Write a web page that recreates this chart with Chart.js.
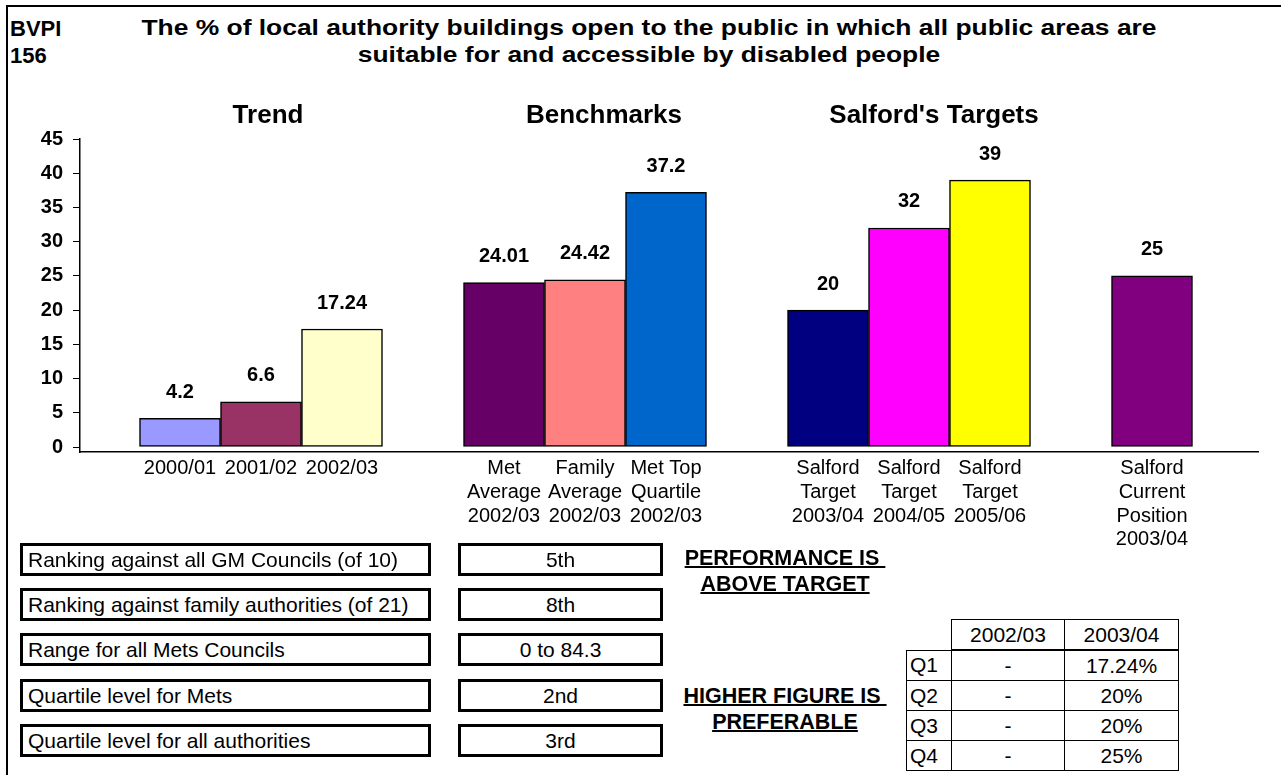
<!DOCTYPE html>
<html>
<head>
<meta charset="utf-8">
<script src="https://cdn.jsdelivr.net/npm/chart.js@4.4.1/dist/chart.umd.min.js"></script>
<style>
  html, body { margin: 0; padding: 0; background: #fff; }
  body { width: 1281px; height: 775px; position: relative; overflow: hidden; font-family: "Liberation Sans", Arial, sans-serif; color: #000; }
  #wrap { position: absolute; left: 0; top: 0; width: 1281px; height: 560px; }
  .frameTop { position: absolute; left: 6px; top: 5px; width: 1275px; height: 2px; background: #000; }
  .frameLeft { position: absolute; left: 6px; top: 5px; width: 2px; height: 770px; background: #000; }
  .hdr { position: absolute; font-weight: bold; font-size: 22px; line-height: 27px; white-space: nowrap; }
  .box { position: absolute; box-sizing: border-box; border: 3px solid #000; height: 33px; font-size: 21px; line-height: 27px; white-space: nowrap; }
  .lbl { left: 20px; width: 411px; padding-left: 5px; }
  .val { left: 458px; width: 205px; text-align: center; }
  .note { position: absolute; left: 675px; width: 220px; text-align: center; font-weight: bold; font-size: 21.5px; line-height: 26px; text-decoration: underline; text-decoration-thickness: 2px; white-space: pre; }
  table.q { position: absolute; left: 906px; top: 619px; border-collapse: collapse; table-layout: fixed; font-size: 21px; }
  table.q td { border: 1px solid #000; text-align: center; padding: 0; height: 29px; }
  table.q td.rl { text-align: left; padding-left: 3px; }
  table.q tr.head td { border-bottom: 2px solid #000; }
</style>
</head>
<body>
<div class="frameTop"></div>
<div class="frameLeft"></div>
<div class="hdr" style="left:10px; top:15px;">BVPI<br>156</div>
<div class="hdr" style="left:139px; width:1020px; top:14px; text-align:center; transform:scaleX(1.2); transform-origin:510px 0;">The % of local authority buildings open to the public in which all public areas are<br>suitable for and accessible by disabled people</div>
<div id="wrap"><canvas id="chart"></canvas></div>
<div id="boxes"></div>
<div class="note" style="top:545px;">PERFORMANCE IS 
ABOVE TARGET</div>
<div class="note" style="top:683px;">HIGHER FIGURE IS 
PREFERABLE</div>
<table class="q" id="qtable">
  <colgroup><col style="width:45px"><col style="width:113px"><col style="width:114px"></colgroup>
  <tbody></tbody>
</table>
<script>
// bar chart data, one group per heading
const trendLabels = [['2000/01'], ['2001/02'], ['2002/03']];
const trendValues = [4.2, 6.6, 17.24];
const benchLabels = [['Met', 'Average', '2002/03'], ['Family', 'Average', '2002/03'], ['Met Top', 'Quartile', '2002/03']];
const benchValues = [24.01, 24.42, 37.2];
const targetLabels = [['Salford', 'Target', '2003/04'], ['Salford', 'Target', '2004/05'], ['Salford', 'Target', '2005/06']];
const targetValues = [20, 32, 39];
const currentLabels = [['Salford', 'Current', 'Position', '2003/04']];
const currentValues = [25];
const groupTitles = ['Trend', 'Benchmarks', "Salford's Targets", ''];
const yTicks = [0, 5, 10, 15, 20, 25, 30, 35, 40, 45];

// info boxes and quartile table
const infoLabels = ['Ranking against all GM Councils (of 10)', 'Ranking against family authorities (of 21)', 'Range for all Mets Councils', 'Quartile level for Mets', 'Quartile level for all authorities'];
const infoValues = ['5th', '8th', '0 to 84.3', '2nd', '3rd'];
const quartileYears = ['2002/03', '2003/04'];
const quartileRows = ['Q1', 'Q2', 'Q3', 'Q4'];
const quartile0203 = ['-', '-', '-', '-'];
const quartile0304 = ['17.24%', '20%', '20%', '25%'];

const groupColors = [
  ['#9999FF', '#993366', '#FFFFCC'],
  ['#660066', '#FF8080', '#0066CC'],
  ['#000080', '#FF00FF', '#FFFF00'],
  ['#800080']
];
const titleShift = [7, 19, 25, 0]; // text boxes sit a bit right of the group centre

// lay groups out on slots with one empty slot between them
const groups = [
  [trendLabels, trendValues],
  [benchLabels, benchValues],
  [targetLabels, targetValues],
  [currentLabels, currentValues]
];
const points = [], colors = [], tickText = {}, groupCenters = [];
let slot = 0;
groups.forEach(([labels, values], g) => {
  const first = slot;
  values.forEach((v, i) => {
    points.push({ x: slot, y: v });
    colors.push(groupColors[g][i]);
    tickText[slot] = labels[i];
    slot++;
  });
  groupCenters.push((first + slot - 1) / 2);
  slot++;
});

const boxes = document.getElementById('boxes');
infoLabels.forEach((t, i) => {
  const top = 543 + i * 45.2;
  boxes.insertAdjacentHTML('beforeend',
    `<div class="box lbl" style="top:${top}px">${t}</div><div class="box val" style="top:${top}px">${infoValues[i]}</div>`);
});
let html = `<tr class="head"><td style="border:none;border-bottom:1px solid #000;border-right:1px solid #000"></td><td>${quartileYears[0]}</td><td>${quartileYears[1]}</td></tr>`;
quartileRows.forEach((q, i) => {
  html += `<tr><td class="rl">${q}</td><td>${quartile0203[i]}</td><td>${quartile0304[i]}</td></tr>`;
});
document.querySelector('#qtable tbody').innerHTML = html;

const valueLabels = {
  id: 'valueLabels',
  afterDatasetsDraw(chart) {
    const ctx = chart.ctx;
    ctx.save();
    ctx.font = 'bold 20px "Liberation Sans", Arial, sans-serif';
    ctx.fillStyle = '#000';
    ctx.textAlign = 'center';
    ctx.textBaseline = 'middle';
    chart.getDatasetMeta(0).data.forEach((bar, i) => {
      ctx.fillText(String(points[i].y), bar.x, bar.y - 26);
    });
    ctx.restore();
  }
};

const groupHeads = {
  id: 'groupHeads',
  afterDraw(chart) {
    const ctx = chart.ctx;
    const xs = chart.scales.x;
    ctx.save();
    ctx.font = 'bold 26px "Liberation Sans", Arial, sans-serif';
    ctx.fillStyle = '#000';
    ctx.textAlign = 'center';
    ctx.textBaseline = 'middle';
    groupTitles.forEach((t, g) => {
      if (t) ctx.fillText(t, xs.getPixelForValue(groupCenters[g]) + titleShift[g], 116);
    });
    ctx.restore();
  }
};

new Chart(document.getElementById('chart'), {
  type: 'bar',
  data: {
    datasets: [{
      data: points,
      backgroundColor: colors,
      borderColor: '#000',
      borderWidth: 1.5,
      borderSkipped: false,
      barPercentage: 1,
      categoryPercentage: 1
    }]
  },
  options: {
    responsive: true,
    maintainAspectRatio: false,
    animation: false,
    layout: { padding: { left: 0, top: 139, right: 23, bottom: 0 } },
    plugins: { legend: { display: false }, tooltip: { enabled: false } },
    scales: {
      x: {
        type: 'linear',
        offset: false,
        min: -100 / 81,
        max: 1078 / 81,
        grid: { display: false, drawTicks: false },
        border: { display: true, color: '#000', width: 1.5 },
        afterBuildTicks: scale => { scale.ticks = Object.keys(tickText).map(v => ({ value: Number(v) })); },
        afterFit: scale => { scale.height = 108; },
        ticks: {
          autoSkip: false,
          maxRotation: 0,
          padding: 5,
          color: '#000',
          font: { family: '"Liberation Sans", Arial, sans-serif', size: 20, lineHeight: 1.18 },
          callback: v => tickText[v] || ''
        }
      },
      y: {
        min: -0.73,
        max: 45,
        afterBuildTicks: scale => { scale.ticks = yTicks.map(v => ({ value: v })); },
        afterFit: scale => { scale.width = 80; },
        grid: { drawOnChartArea: false, drawTicks: true, tickLength: 7, color: '#000', lineWidth: 1 },
        border: { display: true, color: '#000', width: 1.5 },
        ticks: {
          padding: 10,
          color: '#000',
          font: { family: '"Liberation Sans", Arial, sans-serif', size: 20, weight: 'bold' }
        }
      }
    }
  },
  plugins: [valueLabels, groupHeads]
});
</script>
</body>
</html>
